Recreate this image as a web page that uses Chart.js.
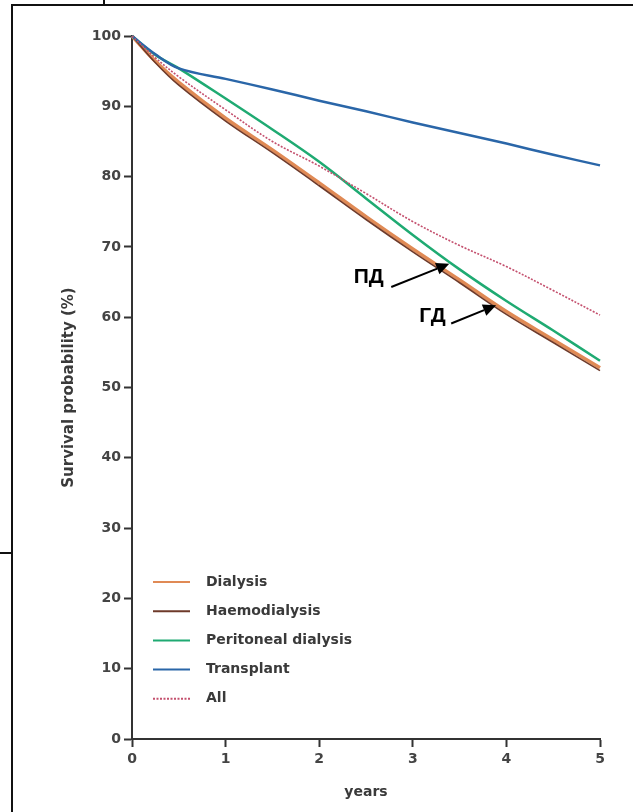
<!DOCTYPE html>
<html>
<head>
<meta charset="utf-8">
<script src="https://cdn.jsdelivr.net/npm/chart.js@4/dist/chart.umd.min.js"></script>
<style>
  html, body { margin: 0; padding: 0; background: #fff; }
  canvas { display: block; }
</style>
</head>
<body>
<canvas id="survival" width="633" height="812"></canvas>
<script>
// Survival curves (years vs %)
const years = [0, 0.25, 0.5, 1, 1.5, 2, 2.5, 3, 3.5, 4, 4.5, 5];
const dialysis = [100, 96.4, 93.4, 88.3, 83.8, 79.1, 74.3, 69.7, 65.3, 60.8, 56.8, 52.8];
const haemodialysis = [100, 96.2, 93.0, 87.9, 83.4, 78.7, 73.9, 69.3, 64.9, 60.4, 56.4, 52.4];
const peritoneal = [100, 97.3, 95.4, 91.1, 86.7, 82.1, 76.9, 71.7, 66.8, 62.3, 58.1, 53.8];
const transplant = [100, 97.4, 95.4, 93.9, 92.4, 90.8, 89.3, 87.7, 86.2, 84.7, 83.1, 81.6];
const allPatients = [100, 96.9, 94.2, 89.5, 85.0, 81.5, 77.6, 73.6, 70.2, 67.2, 63.8, 60.3];

const seriesNames = ['Dialysis', 'Haemodialysis', 'Peritoneal dialysis', 'Transplant', 'All'];
const xTicks = [0, 1, 2, 3, 4, 5];
const yTicks = [0, 10, 20, 30, 40, 50, 60, 70, 80, 90, 100];

// arrow labels: text centre, arrow tail, arrow tip (in data units)
const notes = [
  { text: 'ПД', at: [2.53, 65.7], from: [2.77, 64.3], to: [3.39, 67.6] },
  { text: 'ГД', at: [3.21, 60.2], from: [3.41, 59.1], to: [3.89, 61.7] }
];

const FONT = '"DejaVu Sans", Verdana, sans-serif';

function pts(vals) {
  return years.map((x, i) => ({ x: x, y: vals[i] }));
}

const datasets = [
  { label: seriesNames[0], data: pts(dialysis), borderColor: '#e08a55', borderWidth: 3.5, order: 4 },
  { label: seriesNames[1], data: pts(haemodialysis), borderColor: '#6e3a2a', borderWidth: 1.6, order: 3 },
  { label: seriesNames[2], data: pts(peritoneal), borderColor: '#1faa72', borderWidth: 2.5, order: 2 },
  { label: seriesNames[3], data: pts(transplant), borderColor: '#2a66a8', borderWidth: 2.5, order: 1 },
  { label: seriesNames[4], data: pts(allPatients), borderColor: '#c4506e', borderWidth: 1.6, borderDash: [2, 1.5], order: 0 }
];
datasets.forEach(d => {
  d.pointRadius = 0;
  d.tension = 0.35;
  d.fill = false;
  d.clip = false;
});

const extras = {
  id: 'extras',
  afterDraw(chart) {
    const c = chart.ctx;
    const xs = chart.scales.x, ys = chart.scales.y;
    c.save();

    // frame lines around the figure
    c.strokeStyle = '#111';
    c.lineWidth = 2;
    c.beginPath();
    c.moveTo(12, 812); c.lineTo(12, 5); c.lineTo(633, 5);
    c.moveTo(104, 0); c.lineTo(104, 5);
    c.moveTo(0, 553); c.lineTo(12, 553);
    c.stroke();

    // axis titles
    c.fillStyle = '#3a3a3a';
    c.font = 'bold 14px ' + FONT;
    c.textAlign = 'center';
    c.textBaseline = 'middle';
    c.fillText('years', (xs.left + xs.right) / 2, 792);
    c.save();
    c.translate(69, (ys.top + ys.bottom) / 2);
    c.rotate(-Math.PI / 2);
    c.font = 'bold 15px ' + FONT;
    c.fillText('Survival probability (%)', 0, 0);
    c.restore();

    // legend
    c.textAlign = 'left';
    c.font = 'bold 14px ' + FONT;
    chart.data.datasets.forEach((d, i) => {
      const y = 582 + i * 29.2;
      c.strokeStyle = d.borderColor;
      c.lineWidth = 2;
      c.setLineDash(d.borderDash || []);
      c.beginPath();
      c.moveTo(153, y); c.lineTo(190, y);
      c.stroke();
      c.setLineDash([]);
      c.fillStyle = '#3a3a3a';
      c.fillText(d.label, 206, y);
    });

    // arrow annotations
    notes.forEach(n => {
      const tx = xs.getPixelForValue(n.at[0]), ty = ys.getPixelForValue(n.at[1]);
      const fx = xs.getPixelForValue(n.from[0]), fy = ys.getPixelForValue(n.from[1]);
      const px = xs.getPixelForValue(n.to[0]), py = ys.getPixelForValue(n.to[1]);
      c.fillStyle = '#000';
      c.font = 'bold 21px "Liberation Sans", Arial, sans-serif';
      c.textAlign = 'center';
      c.fillText(n.text, tx, ty);
      const ang = Math.atan2(py - fy, px - fx);
      const hl = 13, hw = 6;
      const bx = px - hl * Math.cos(ang), by = py - hl * Math.sin(ang);
      c.strokeStyle = '#000';
      c.lineWidth = 2;
      c.beginPath();
      c.moveTo(fx, fy); c.lineTo(bx, by);
      c.stroke();
      c.beginPath();
      c.moveTo(px, py);
      c.lineTo(bx + hw * Math.sin(ang), by - hw * Math.cos(ang));
      c.lineTo(bx - hw * Math.sin(ang), by + hw * Math.cos(ang));
      c.closePath();
      c.fill();
    });
    c.restore();
  }
};

const axisGrid = { display: true, drawOnChartArea: false, drawTicks: true, tickLength: 8, tickColor: '#333', tickWidth: 2 };
const tickFont = { family: FONT, size: 14, weight: 'bold' };

new Chart(document.getElementById('survival'), {
  type: 'line',
  data: { datasets: datasets },
  options: {
    responsive: false,
    animation: false,
    layout: { padding: { top: 36, right: 33, left: 0, bottom: 0 } },
    plugins: { legend: { display: false }, tooltip: { enabled: false } },
    scales: {
      x: {
        type: 'linear', min: 0, max: 5,
        afterBuildTicks: a => { a.ticks = xTicks.map(v => ({ value: v })); },
        afterFit: s => { s.height = 73; },
        grid: axisGrid,
        border: { display: true, color: '#333', width: 2 },
        ticks: { font: tickFont, color: '#444', padding: 4, maxRotation: 0 }
      },
      y: {
        type: 'linear', min: 0, max: 100,
        afterBuildTicks: a => { a.ticks = yTicks.map(v => ({ value: v })); },
        afterFit: s => { s.width = 132; },
        grid: axisGrid,
        border: { display: true, color: '#333', width: 2 },
        ticks: { font: tickFont, color: '#444', padding: 3 }
      }
    }
  },
  plugins: [extras]
});
</script>
</body>
</html>
